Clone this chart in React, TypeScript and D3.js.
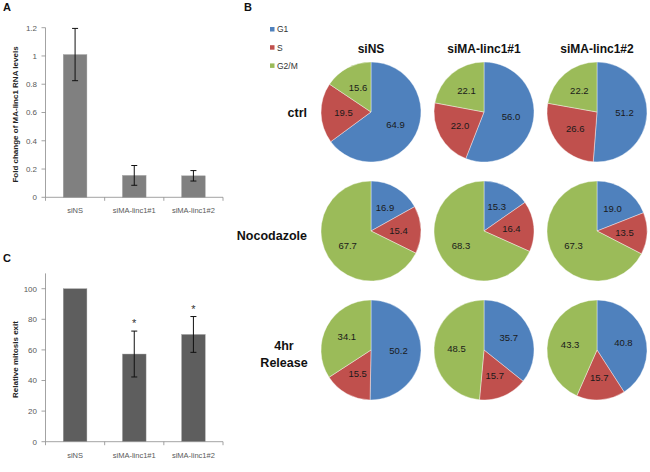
import React from 'react';
import * as d3 from 'd3';

// Panel A: knockdown levels
const groups = ['siNS', 'siMA-linc1#1', 'siMA-linc1#2'];
const foldChange = [1.01, 0.155, 0.152];
const foldErr = [0.185, 0.07, 0.037];
const foldTicks = [0, 0.2, 0.4, 0.6, 0.8, 1, 1.2];

// Panel C: mitosis exit
const mitosisExit = [100, 57.3, 70.1];
const mitosisErr = [0, 15, 11.7];
const mitosisStar = [false, true, true];
const mitosisTicks = [0, 20, 40, 60, 80, 100];

// Panel B: cell cycle distributions (G1, S, G2/M)
const phases = ['G1', 'S', 'G2/M'];
const phaseColors = ['#4F81BD', '#C0504D', '#9BBB59'];
const conditions = ['ctrl', 'Nocodazole', '4hr Release'];
const ctrlValues = [[64.9, 19.5, 15.6], [56.0, 22.0, 22.1], [51.2, 26.6, 22.2]];
const nocoValues = [[16.9, 15.4, 67.7], [15.3, 16.4, 68.3], [19.0, 13.5, 67.3]];
const releaseValues = [[50.2, 15.5, 34.1], [35.7, 15.7, 48.5], [40.8, 15.7, 43.3]];
const pieRows = [ctrlValues, nocoValues, releaseValues];

const FONT = '"Liberation Sans", Arial, sans-serif';
const TICK = '#595959';
const AXIS = '#8c8c8c';

function BarPanel(props: {
  letter: string; letterY: number; top: number; bottom: number; max: number;
  values: number[]; errs: number[]; ticks: number[]; fmt: (v: number) => string;
  title: string; fill: string; stars?: boolean[];
}) {
  const { letter, letterY, top, bottom, max, values, errs, ticks, fmt, title, fill, stars } = props;
  const x = d3.scaleBand<string>().domain(groups).range([45.5, 223]);
  const y = d3.scaleLinear().domain([0, max]).range([bottom, top]);
  const bw = x.bandwidth() * 0.4;
  const boundaries = [...groups.map(g => x(g)!), 223];
  return (
    <g fontFamily={FONT}>
      <text x={3} y={letterY} fontSize={11} fontWeight="bold" fill="#111">{letter}</text>
      {groups.map((g, i) => {
        const cx = x(g)! + x.bandwidth() / 2;
        return (
          <g key={g}>
            <rect x={cx - bw / 2} y={y(values[i])} width={bw} height={y(0) - y(values[i])}
              fill={fill} stroke="#a0a0a0" strokeWidth={0.4} />
            {errs[i] > 0 && (
              <g stroke="#111" strokeWidth={1}>
                <line x1={cx} x2={cx} y1={y(values[i] + errs[i])} y2={y(values[i] - errs[i])} />
                <line x1={cx - 3} x2={cx + 3} y1={y(values[i] + errs[i])} y2={y(values[i] + errs[i])} />
                <line x1={cx - 3} x2={cx + 3} y1={y(values[i] - errs[i])} y2={y(values[i] - errs[i])} />
              </g>
            )}
            {stars && stars[i] && (
              <text x={cx} y={y(values[i] + errs[i]) - 4} textAnchor="middle" fontSize={11} fill="#333">*</text>
            )}
            <text x={cx} y={bottom + 16} textAnchor="middle" fontSize={7.5} fill={TICK}>{g}</text>
          </g>
        );
      })}
      <line x1={45.5} x2={45.5} y1={y(max)} y2={bottom} stroke={AXIS} strokeWidth={0.8} />
      <line x1={45.5} x2={223} y1={bottom} y2={bottom} stroke={AXIS} strokeWidth={0.8} />
      {ticks.map(t => (
        <g key={t}>
          <line x1={41.5} x2={45.5} y1={y(t)} y2={y(t)} stroke={AXIS} strokeWidth={0.8} />
          <text x={37} y={y(t) + 2.8} textAnchor="end" fontSize={8} fill={TICK}>{fmt(t)}</text>
        </g>
      ))}
      {boundaries.map((b, i) => (
        <line key={i} x1={b} x2={b} y1={bottom} y2={bottom + 3.5} stroke={AXIS} strokeWidth={0.8} />
      ))}
      <text transform={`translate(18,${(y(max) + bottom) / 2 + 2}) rotate(-90)`} textAnchor="middle"
        fontSize={8} fontWeight="bold" fill="#222">{title}</text>
    </g>
  );
}

function PiePanel() {
  const colX = d3.scalePoint<string>().domain(groups).range([371, 597]);
  const rowY = d3.scalePoint<string>().domain(conditions).range([112, 350]);
  const r = 50;
  const pie = d3.pie<number>().sort(null).value(d => d);
  const arc = d3.arc<d3.PieArcDatum<number>>().innerRadius(0).outerRadius(r);
  const labelArc = d3.arc<d3.PieArcDatum<number>>().innerRadius(r * 0.55).outerRadius(r * 0.55);
  return (
    <g fontFamily={FONT}>
      <text x={244} y={11} fontSize={11} fontWeight="bold" fill="#111">B</text>
      {phases.map((p, i) => (
        <g key={p}>
          <rect x={270} y={27 + i * 18.2} width={4.5} height={4.5} fill={phaseColors[i]} />
          <text x={277} y={32.3 + i * 18.2} fontSize={8.5} fill="#333">{p}</text>
        </g>
      ))}
      {groups.map(g => (
        <text key={g} x={colX(g)} y={53} textAnchor="middle" fontSize={12} fontWeight="bold" fill="#111">{g}</text>
      ))}
      <text x={307} y={117} textAnchor="end" fontSize={12.5} fontWeight="bold" fill="#111">ctrl</text>
      <text x={307} y={240} textAnchor="end" fontSize={12.5} fontWeight="bold" fill="#111">Nocodazole</text>
      <text x={284} y={350} textAnchor="middle" fontSize={12.5} fontWeight="bold" fill="#111">4hr</text>
      <text x={284} y={367} textAnchor="middle" fontSize={12.5} fontWeight="bold" fill="#111">Release</text>
      {conditions.map((c, ri) => groups.map((g, ci) => {
        const arcs = pie(pieRows[ri][ci]);
        return (
          <g key={c + g} transform={`translate(${colX(g)},${rowY(c)})`}>
            {arcs.map((a, k) => (
              <path key={k} d={arc(a)!} fill={phaseColors[k]} stroke="#fff" strokeWidth={0.4} />
            ))}
            {arcs.map((a, k) => {
              const [lx, ly] = labelArc.centroid(a);
              return (
                <text key={'t' + k} x={lx} y={ly + 3.3} textAnchor="middle" fontSize={9.5} fill="#1a1a1a">
                  {a.data.toFixed(1)}
                </text>
              );
            })}
          </g>
        );
      }))}
    </g>
  );
}

export default function App() {
  return (
    <svg width={650} height={472} style={{ position: 'absolute', left: 0, top: 0, background: '#fff' }}>
      <rect width={650} height={472} fill="#fff" />
      <BarPanel letter="A" letterY={11} top={27.7} bottom={197.3} max={1.2} values={foldChange} errs={foldErr}
        ticks={foldTicks} fmt={v => String(v)} title="Fold change of MA-linc1 RNA levels" fill="#808080" />
      <BarPanel letter="C" letterY={262} top={273.4} bottom={441.7} max={110} values={mitosisExit} errs={mitosisErr}
        ticks={mitosisTicks} fmt={v => String(v)} title="Relative mitosis exit" fill="#5e5e5e" stars={mitosisStar} />
      <PiePanel />
    </svg>
  );
}
